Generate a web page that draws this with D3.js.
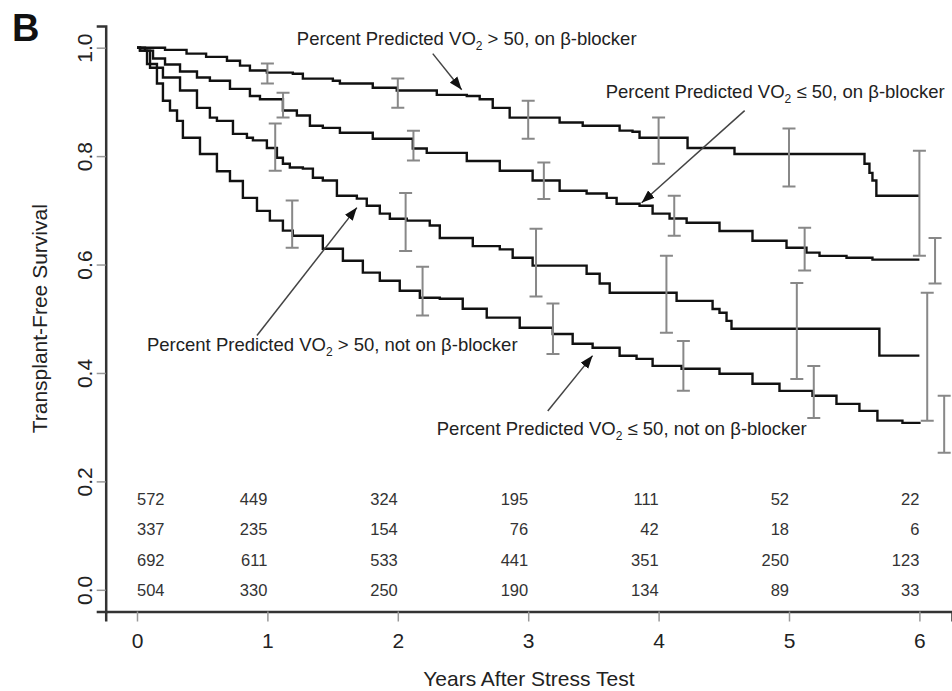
<!DOCTYPE html>
<html>
<head>
<meta charset="utf-8">
<script src="https://cdn.jsdelivr.net/npm/d3@7"></script>
<style>
  body { margin: 0; background: #fff; }
  svg { display: block; font-family: "Liberation Sans", Arial, Helvetica, sans-serif; }
</style>
</head>
<body>
<svg id="km" width="952" height="691"></svg>
<script>
// Kaplan-Meier curves: [years, survival]
const hiOnBB = [[0,1],[0.215,0.996],[0.38,0.989],[0.53,0.983],[0.69,0.976],[0.79,0.967],[0.866,0.958],[0.996,0.954],[1.195,0.952],[1.272,0.943],[1.502,0.939],[1.556,0.934],[1.808,0.926],[1.992,0.921],[2.299,0.913],[2.529,0.911],[2.628,0.905],[2.728,0.889],[2.858,0.871],[3.241,0.862],[3.418,0.856],[3.701,0.847],[3.8,0.845],[3.854,0.834],[4.222,0.815],[4.582,0.804],[5.579,0.786],[5.617,0.769],[5.64,0.755],[5.67,0.727],[6.0,0.727]];
const loOnBB = [[0,1],[0.061,0.9945],[0.123,0.98],[0.215,0.969],[0.33,0.956],[0.46,0.945],[0.559,0.939],[0.713,0.924],[0.866,0.911],[0.943,0.905],[1.119,0.884],[1.226,0.875],[1.326,0.856],[1.425,0.852],[1.556,0.843],[1.808,0.832],[2.115,0.814],[2.222,0.806],[2.529,0.791],[2.782,0.773],[3.034,0.755],[3.241,0.736],[3.448,0.731],[3.602,0.723],[3.678,0.712],[3.854,0.7085],[3.954,0.694],[4.084,0.685],[4.215,0.677],[4.467,0.662],[4.72,0.644],[4.981,0.631],[5.134,0.622],[5.234,0.616],[5.441,0.6125],[5.64,0.609],[6.0,0.609]];
const hiNoBB = [[0,1],[0.023,0.9945],[0.1,0.963],[0.199,0.945],[0.33,0.921],[0.46,0.889],[0.559,0.871],[0.613,0.865],[0.736,0.841],[0.843,0.834],[0.889,0.829],[0.996,0.815],[1.073,0.797],[1.119,0.786],[1.172,0.779],[1.272,0.777],[1.349,0.76],[1.425,0.755],[1.533,0.727],[1.686,0.7215],[1.762,0.7085],[1.862,0.694],[1.939,0.6845],[2.069,0.681],[2.245,0.672],[2.322,0.649],[2.575,0.634],[2.782,0.628],[2.881,0.6125],[3.034,0.598],[3.448,0.583],[3.548,0.565],[3.625,0.548],[4.138,0.533],[4.414,0.518],[4.467,0.511],[4.521,0.496],[4.559,0.4815],[5.693,0.432],[6.0,0.432]];
const loNoBB = [[0,1],[0.023,0.9945],[0.077,0.97],[0.153,0.934],[0.199,0.902],[0.253,0.884],[0.307,0.865],[0.352,0.834],[0.483,0.804],[0.613,0.772],[0.713,0.754],[0.812,0.723],[0.92,0.699],[1.019,0.681],[1.119,0.6625],[1.195,0.653],[1.425,0.629],[1.579,0.607],[1.732,0.585],[1.862,0.57],[2.015,0.5517],[2.169,0.5387],[2.322,0.537],[2.498,0.5185],[2.682,0.502],[2.935,0.4834],[3.188,0.472],[3.341,0.454],[3.494,0.4465],[3.701,0.4317],[3.831,0.426],[3.954,0.413],[4.176,0.4077],[4.467,0.3985],[4.72,0.38],[4.927,0.367],[5.18,0.358],[5.364,0.343],[5.54,0.33],[5.678,0.312],[5.87,0.308],[6.0,0.306]];

// confidence bars: time, lower, upper
const hiOnBBTimes = [1, 2, 3, 4, 5, 6];
const hiOnBBLow = [0.934, 0.889, 0.832, 0.786, 0.744, 0.616];
const hiOnBBHigh = [0.971, 0.943, 0.902, 0.871, 0.851, 0.810];
const loOnBBTimes = [1.12, 2.12, 3.12, 4.12, 5.12, 6.12];
const loOnBBLow = [0.871, 0.792, 0.721, 0.653, 0.589, 0.565];
const loOnBBHigh = [0.917, 0.847, 0.788, 0.727, 0.668, 0.649];
const hiNoBBTimes = [1.06, 2.06, 3.06, 4.06, 5.06, 6.06];
const hiNoBBLow = [0.773, 0.625, 0.541, 0.474, 0.389, 0.312];
const hiNoBBHigh = [0.860, 0.732, 0.666, 0.616, 0.566, 0.548];
const loNoBBTimes = [1.19, 2.19, 3.19, 4.19, 5.19, 6.19];
const loNoBBLow = [0.631, 0.506, 0.435, 0.367, 0.317, 0.253];
const loNoBBHigh = [0.718, 0.596, 0.528, 0.459, 0.413, 0.358];

// numbers at risk
const riskTimes = [0, 1, 2, 3, 4, 5, 6];
const riskRow1 = [572, 449, 324, 195, 111, 52, 22];
const riskRow2 = [337, 235, 154, 76, 42, 18, 6];
const riskRow3 = [692, 611, 533, 441, 351, 250, 123];
const riskRow4 = [504, 330, 250, 190, 134, 89, 33];

const xTicks = [0, 1, 2, 3, 4, 5, 6];
const yTicks = [0, 0.2, 0.4, 0.6, 0.8, 1.0];

const groupLabels = [
	["Percent Predicted VO", "2", " > 50, on \u03b2-blocker"],
	["Percent Predicted VO", "2", " \u2264 50, on \u03b2-blocker"],
	["Percent Predicted VO", "2", " > 50, not on \u03b2-blocker"],
	["Percent Predicted VO", "2", " \u2264 50, not on \u03b2-blocker"]
];

const svg = d3.select("#km");
const x = d3.scaleLinear().domain([-0.24, 6.25]).range([105.7, 952]);
const y = d3.scaleLinear().domain([-0.04, 1.04]).range([611.5, 26]);

// panel letter
svg.append("text").attr("x", 12).attr("y", 41)
	 .attr("font-size", 38).attr("font-weight", "bold").attr("fill", "#111").text("B");

// axes
const xAxis = svg.append("g").attr("transform", "translate(0," + y(-0.04) + ")")
	 .call(d3.axisBottom(x).tickValues(xTicks).tickSizeOuter(0).tickSize(10).tickPadding(12).tickFormat(d3.format("d")));
const yAxis = svg.append("g").attr("transform", "translate(" + x(-0.24) + ",0)")
	 .call(d3.axisLeft(y).tickValues(yTicks).tickSizeOuter(0).tickSize(9).tickFormat(d3.format(".1f")));

[xAxis, yAxis].forEach(a => {
	a.select(".domain").attr("stroke", "#333").attr("stroke-width", 2.5);
	a.selectAll(".tick line").attr("stroke", "#999").attr("stroke-width", 1.5);
	a.selectAll(".tick text").attr("fill", "#222").attr("font-size", 21)
	 .attr("font-family", "'Liberation Sans', Arial, sans-serif");
});
yAxis.selectAll(".tick text")
	 .attr("transform", "rotate(-90)").attr("x", 0).attr("y", -14).attr("dy", 0)
	 .attr("text-anchor", "middle");

svg.append("text").attr("x", (x(-0.24) + 952) / 2).attr("y", 686)
	 .attr("text-anchor", "middle").attr("font-size", 21).attr("fill", "#222")
	 .text("Years After Stress Test");
svg.append("text").attr("transform", "translate(47," + y(0.5) + ") rotate(-90)")
	 .attr("text-anchor", "middle").attr("font-size", 21).attr("fill", "#222")
	 .text("Transplant-Free Survival");

// curves
const line = d3.line().x(d => x(d[0])).y(d => y(d[1])).curve(d3.curveStepAfter);
svg.append("g").selectAll("path")
	 .data([hiOnBB, loOnBB, hiNoBB, loNoBB])
	 .enter().append("path")
	 .attr("d", line).attr("fill", "none")
	 .attr("stroke", "#111").attr("stroke-width", 2.4);

// error bars
const bars = [];
[[hiOnBBTimes, hiOnBBLow, hiOnBBHigh], [loOnBBTimes, loOnBBLow, loOnBBHigh],
 [hiNoBBTimes, hiNoBBLow, hiNoBBHigh], [loNoBBTimes, loNoBBLow, loNoBBHigh]]
	.forEach(([t, lo, hi]) => t.forEach((d, i) => bars.push({t: d, lo: lo[i], hi: hi[i]})));

const capW = 6.5;
const barG = svg.append("g").attr("stroke", "#888").attr("stroke-width", 2).attr("fill", "none");
barG.selectAll("path").data(bars).enter().append("path")
	 .attr("d", d => {
		 const cx = x(d.t), y0 = y(d.lo), y1 = y(d.hi);
		 return "M" + cx + "," + y0 + "V" + y1 +
						"M" + (cx - capW) + "," + y1 + "H" + (cx + capW) +
						"M" + (cx - capW) + "," + y0 + "H" + (cx + capW);
	 });

// numbers at risk
const riskG = svg.append("g").attr("font-size", 16.5).attr("fill", "#333");
[riskRow1, riskRow2, riskRow3, riskRow4].forEach((row, r) => {
	riskG.selectAll(".r" + r).data(row).enter().append("text")
			 .attr("class", "r" + r)
			 .attr("x", (d, i) => x(riskTimes[i]))
			 .attr("y", y(0) - (3 - r) * 30.3 + 6)
			 .attr("text-anchor", (d, i) => i === 0 ? "start" : "end")
			 .text(d => d);
});

// annotations: label anchor and arrow tail -> tip, in data units
const labelPos = [[1.226, 1.0055], [3.594, 0.908], [0.0766, 0.441], [2.299, 0.286]];
const arrowFrom = [[2.268, 0.989], [4.66, 0.884], [0.92, 0.469], [3.15, 0.330]];
const arrowTo = [[2.49, 0.9225], [3.87, 0.714], [1.686, 0.705], [3.494, 0.432]];

svg.append("defs").append("marker")
	 .attr("id", "head").attr("viewBox", "0 0 12 9")
	 .attr("refX", 12).attr("refY", 4.5)
	 .attr("markerWidth", 13).attr("markerHeight", 10)
	 .attr("markerUnits", "userSpaceOnUse").attr("orient", "auto")
	 .append("path").attr("d", "M0,0L12,4.5L0,9Z").attr("fill", "#111");

svg.append("g").selectAll("line").data(arrowFrom).enter().append("line")
	 .attr("x1", d => x(d[0])).attr("y1", d => y(d[1]))
	 .attr("x2", (d, i) => x(arrowTo[i][0])).attr("y2", (d, i) => y(arrowTo[i][1]))
	 .attr("stroke", "#444").attr("stroke-width", 1.5)
	 .attr("marker-end", "url(#head)");

const lbl = svg.append("g").attr("font-size", 18.5).attr("fill", "#222")
	 .selectAll("text").data(groupLabels).enter().append("text")
	 .attr("x", (d, i) => x(labelPos[i][0])).attr("y", (d, i) => y(labelPos[i][1]));
lbl.append("tspan").text(d => d[0]);
lbl.append("tspan").attr("font-size", 12).attr("dy", 5).text(d => d[1]);
lbl.append("tspan").attr("dy", -5).text(d => d[2]);
</script>
</body>
</html>
